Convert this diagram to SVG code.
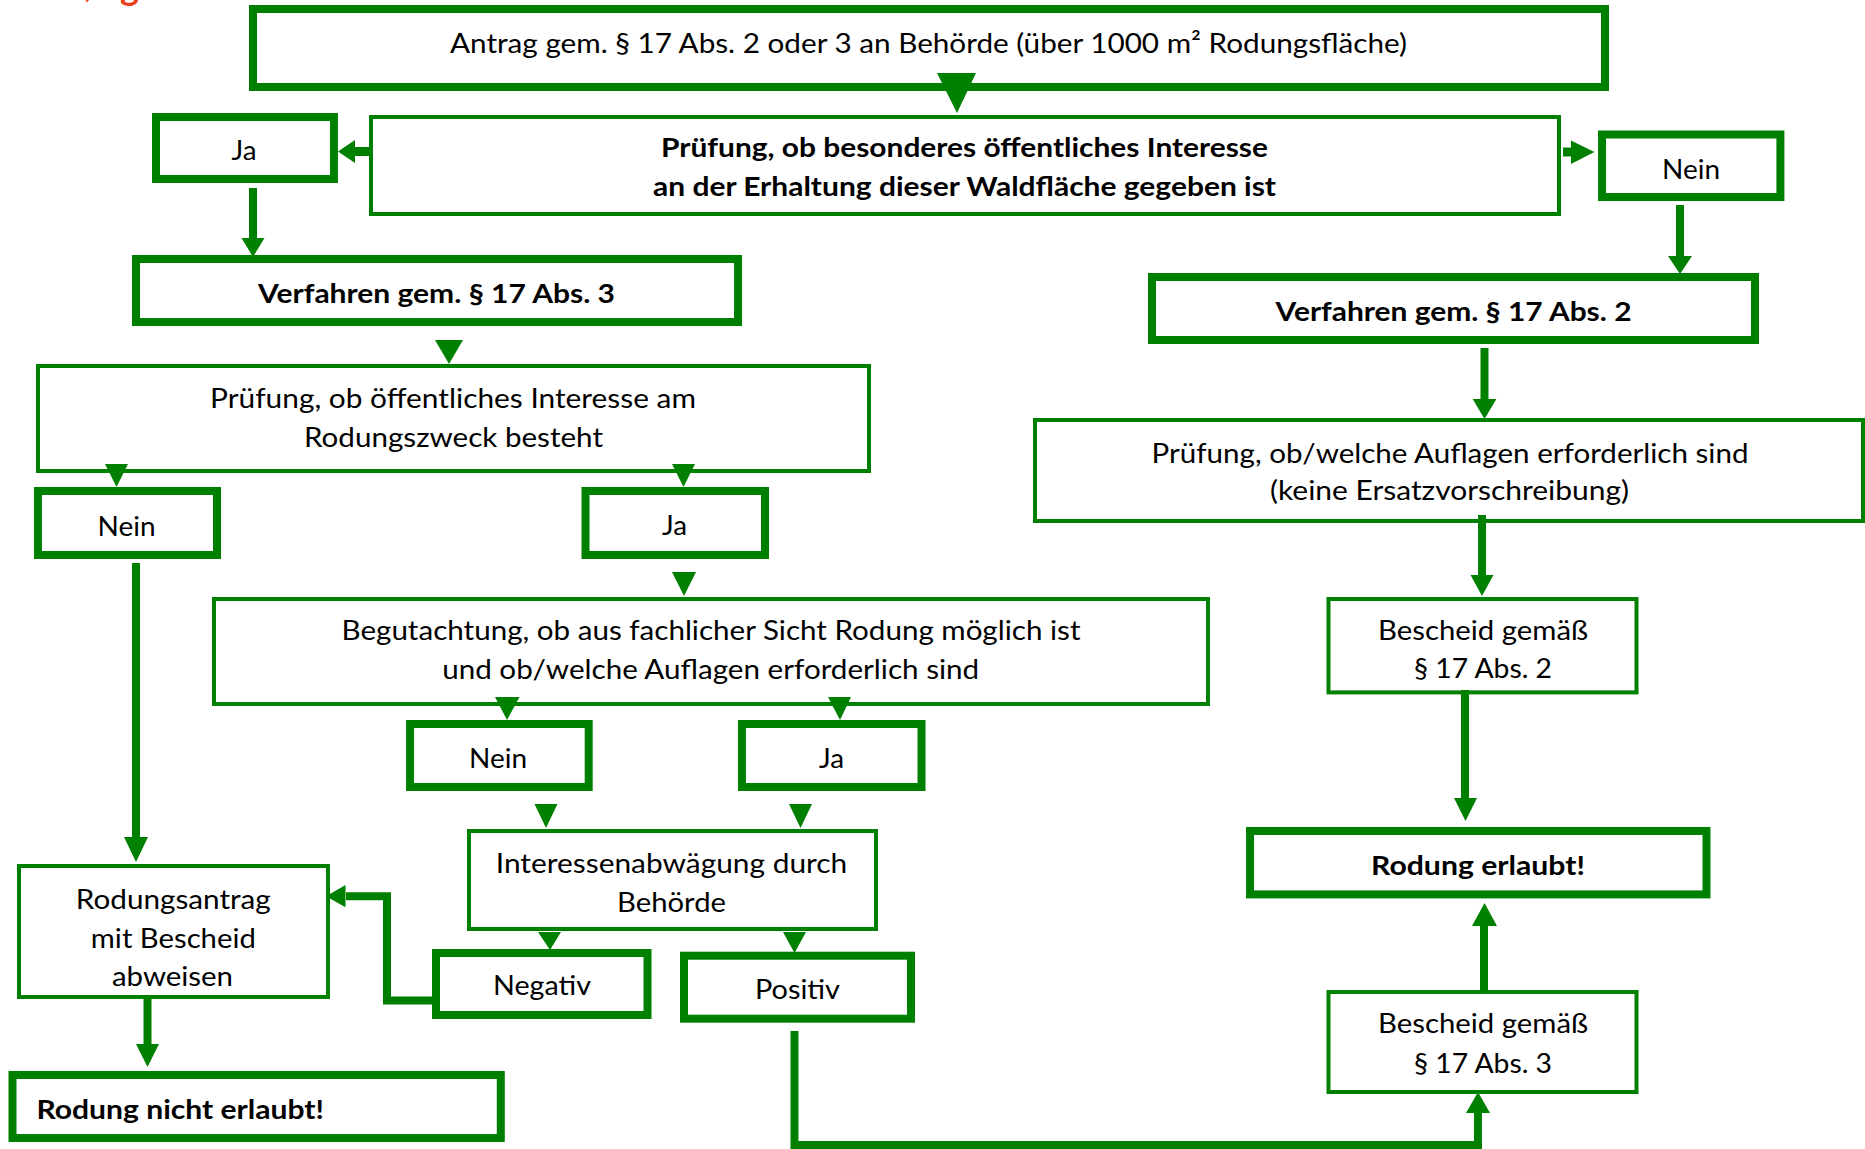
<svg xmlns="http://www.w3.org/2000/svg" width="1865" height="1149" viewBox="0 0 1865 1149">
<style>
.box{fill:#fff;stroke:#008000}
.thick{stroke-width:8}
.thin{stroke-width:4}
.t{font-family:Lato,"Open Sans","Liberation Sans",sans-serif;font-size:27px;fill:#000;text-anchor:middle}
.b{font-weight:bold}
.ln{fill:none;stroke:#008000;stroke-width:8}
.hd{fill:#008000}
.red{font-family:Lato,"Liberation Sans",sans-serif;font-size:36px;font-weight:bold;fill:#e8401c}
</style>
<rect width="1865" height="1149" fill="#fff"/>
<text class="red" x="84" y="-3">,</text>
<text class="red" x="120" y="0">g</text>

<g id="n_antrag">
<rect class="box thick" x="253" y="9" width="1352" height="78"/>
<text class="t" x="928.5" y="53" textLength="957" lengthAdjust="spacingAndGlyphs">Antrag gem. § 17 Abs. 2 oder 3 an Behörde (über 1000 m² Rodungsfläche)</text>
</g>
<g id="n_pruef1">
<rect class="box thick" x="371" y="117" width="1188" height="97" style="stroke-width:4"/>
<text class="t b" x="964.5" y="157" textLength="607" lengthAdjust="spacingAndGlyphs">Prüfung, ob besonderes öffentliches Interesse</text>
<text class="t b" x="964.5" y="195.5" textLength="623" lengthAdjust="spacingAndGlyphs">an der Erhaltung dieser Waldfläche gegeben ist</text>
</g>
<g id="n_ja1">
<rect class="box thick" x="156" y="117" width="178" height="62"/>
<text class="t" x="244" y="160" textLength="25" lengthAdjust="spacingAndGlyphs">Ja</text>
</g>
<g id="n_nein1">
<rect class="box thick" x="1602" y="134.5" width="178.4" height="62.5"/>
<text class="t" x="1691" y="179" textLength="58" lengthAdjust="spacingAndGlyphs">Nein</text>
</g>
<g id="n_verf3">
<rect class="box thick" x="136" y="259" width="602" height="63"/>
<text class="t b" x="436.5" y="303" textLength="357" lengthAdjust="spacingAndGlyphs">Verfahren gem. § 17 Abs. 3</text>
</g>
<g id="n_verf2">
<rect class="box thick" x="1152" y="277" width="603" height="63"/>
<text class="t b" x="1453.5" y="321" textLength="356" lengthAdjust="spacingAndGlyphs">Verfahren gem. § 17 Abs. 2</text>
</g>
<g id="n_pruef2">
<rect class="box thin" x="38" y="366" width="831" height="105"/>
<text class="t" x="453" y="408" textLength="486" lengthAdjust="spacingAndGlyphs">Prüfung, ob öffentliches Interesse am</text>
<text class="t" x="453.5" y="446.7" textLength="299" lengthAdjust="spacingAndGlyphs">Rodungszweck besteht</text>
</g>
<g id="n_nein2">
<rect class="box thick" x="38" y="491" width="179" height="64"/>
<text class="t" x="126.5" y="535.5" textLength="58" lengthAdjust="spacingAndGlyphs">Nein</text>
</g>
<g id="n_ja2">
<rect class="box thick" x="585.5" y="491" width="179.5" height="64"/>
<text class="t" x="674.5" y="535" textLength="25" lengthAdjust="spacingAndGlyphs">Ja</text>
</g>
<g id="n_pruef3">
<rect class="box thin" x="1035" y="420" width="828" height="101"/>
<text class="t" x="1450" y="462.5" textLength="597" lengthAdjust="spacingAndGlyphs">Prüfung, ob/welche Auflagen erforderlich sind</text>
<text class="t" x="1449.5" y="500" textLength="359" lengthAdjust="spacingAndGlyphs">(keine Ersatzvorschreibung)</text>
</g>
<g id="n_begut">
<rect class="box thin" x="214" y="599" width="994" height="105"/>
<text class="t" x="711" y="640" textLength="739" lengthAdjust="spacingAndGlyphs">Begutachtung, ob aus fachlicher Sicht Rodung möglich ist</text>
<text class="t" x="710.7" y="679.3" textLength="537" lengthAdjust="spacingAndGlyphs">und ob/welche Auflagen erforderlich sind</text>
</g>
<g id="n_besch2">
<rect class="box thin" x="1328.5" y="599" width="308" height="93.4"/>
<text class="t" x="1483" y="639.8" textLength="210" lengthAdjust="spacingAndGlyphs">Bescheid gemäß</text>
<text class="t" x="1483" y="678" textLength="138" lengthAdjust="spacingAndGlyphs">§ 17 Abs. 2</text>
</g>
<g id="n_nein3">
<rect class="box thick" x="410" y="724" width="178.7" height="63"/>
<text class="t" x="498" y="768" textLength="58" lengthAdjust="spacingAndGlyphs">Nein</text>
</g>
<g id="n_ja3">
<rect class="box thick" x="742" y="724" width="179.5" height="63"/>
<text class="t" x="831.5" y="768" textLength="25" lengthAdjust="spacingAndGlyphs">Ja</text>
</g>
<g id="n_interes">
<rect class="box thin" x="469" y="831" width="407" height="98"/>
<text class="t" x="671.5" y="873.3" textLength="351.5" lengthAdjust="spacingAndGlyphs">Interessenabwägung durch</text>
<text class="t" x="671.5" y="911.7" textLength="109" lengthAdjust="spacingAndGlyphs">Behörde</text>
</g>
<g id="n_erlaubt">
<rect class="box thick" x="1250" y="831" width="456.5" height="63.4"/>
<text class="t b" x="1478" y="874.7" textLength="214" lengthAdjust="spacingAndGlyphs">Rodung erlaubt!</text>
</g>
<g id="n_abweisen">
<rect class="box thin" x="19" y="866" width="309" height="131"/>
<text class="t" x="173.3" y="909.3" textLength="195" lengthAdjust="spacingAndGlyphs">Rodungsantrag</text>
<text class="t" x="173.3" y="948.3" textLength="165" lengthAdjust="spacingAndGlyphs">mit Bescheid</text>
<text class="t" x="172.5" y="986" textLength="121" lengthAdjust="spacingAndGlyphs">abweisen</text>
</g>
<g id="n_negativ">
<rect class="box thick" x="436" y="953" width="211.5" height="62"/>
<text class="t" x="542" y="995" textLength="98" lengthAdjust="spacingAndGlyphs">Negativ</text>
</g>
<g id="n_positiv">
<rect class="box thick" x="684" y="955.7" width="227" height="63"/>
<text class="t" x="797.5" y="999.3" textLength="85" lengthAdjust="spacingAndGlyphs">Positiv</text>
</g>
<g id="n_besch3">
<rect class="box thin" x="1328.5" y="992" width="308" height="100"/>
<text class="t" x="1483" y="1033" textLength="210" lengthAdjust="spacingAndGlyphs">Bescheid gemäß</text>
<text class="t" x="1483" y="1073.3" textLength="138" lengthAdjust="spacingAndGlyphs">§ 17 Abs. 3</text>
</g>
<g id="n_nicht">
<rect class="box thick" x="12.5" y="1075" width="488.3" height="63"/>
<text class="t b" x="36.4" y="1119.3" style="text-anchor:start" textLength="287.6" lengthAdjust="spacingAndGlyphs">Rodung nicht erlaubt!</text>
</g>

<g id="connectors">
<polygon class="hd" points="937,73 976,73 957,113"/>
<line class="ln" x1="369" y1="151.5" x2="352" y2="151.5" style="stroke-width:9"/>
<polygon class="hd" points="355,140 355,163 338,151.5"/>
<line class="ln" x1="253" y1="188" x2="253" y2="240"/>
<polygon class="hd" points="241.5,238 264.5,238 253,257"/>
<line class="ln" x1="1563" y1="152" x2="1574" y2="152" style="stroke-width:9"/>
<polygon class="hd" points="1571,140.4 1571,164 1594.4,152"/>
<line class="ln" x1="1680" y1="205" x2="1680" y2="258"/>
<polygon class="hd" points="1668,256 1692,256 1680,274"/>
<polygon class="hd" points="435,340 463,340 449,364"/>
<line class="ln" x1="1484.5" y1="348" x2="1484.5" y2="401"/>
<polygon class="hd" points="1472.7,399 1496.4,399 1484.5,419"/>
<polygon class="hd" points="105,464 128,464 116.5,487"/>
<polygon class="hd" points="672,464 695,464 683.5,487"/>
<line class="ln" x1="136" y1="563" x2="136" y2="840"/>
<polygon class="hd" points="124,837 148,837 136,862"/>
<polygon class="hd" points="672,572 696,572 684,596"/>
<line class="ln" x1="1482" y1="515" x2="1482" y2="577"/>
<polygon class="hd" points="1470.5,575 1493.5,575 1482,596"/>
<polygon class="hd" points="495,697 519.5,697 507,720"/>
<polygon class="hd" points="828,697 851,697 840,720"/>
<line class="ln" x1="1465" y1="690" x2="1465" y2="800"/>
<polygon class="hd" points="1454,798 1477,798 1465.5,821"/>
<polygon class="hd" points="534.5,804 557.5,804 546,828"/>
<polygon class="hd" points="789,804 812,804 800.5,828"/>
<polygon class="hd" points="538,932 561,932 550,950"/>
<polygon class="hd" points="783,932 806,932 794.5,953"/>
<polyline class="ln" points="436,1000.5 387,1000.5 387,896.3 346,896.3"/>
<polygon class="hd" points="345.5,885 345.5,907.3 326,896.3"/>
<line class="ln" x1="147.5" y1="999" x2="147.5" y2="1046"/>
<polygon class="hd" points="136,1044 159,1044 147.5,1067"/>
<polyline class="ln" points="794.5,1031 794.5,1145 1478,1145 1478,1111"/>
<polygon class="hd" points="1466,1113 1490,1113 1478,1092"/>
<line class="ln" x1="1484" y1="990" x2="1484" y2="924"/>
<polygon class="hd" points="1472,926 1497,926 1484.5,903"/>
</g>
</svg>
